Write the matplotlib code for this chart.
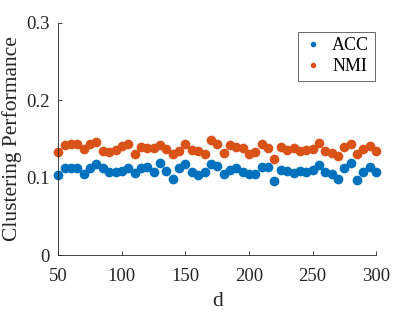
import numpy as np
import matplotlib.pyplot as plt
from matplotlib.lines import Line2D

plt.rcParams['font.family'] = ['Liberation Serif', 'DejaVu Serif']

# Datos
d = np.arange(50, 301, 5)
acc = [0.103, 0.113, 0.113, 0.112, 0.105, 0.113, 0.118, 0.113, 0.107, 0.108,
       0.109, 0.113, 0.106, 0.112, 0.114, 0.108, 0.119, 0.109, 0.099, 0.112,
       0.118, 0.107, 0.104, 0.108, 0.118, 0.115, 0.105, 0.110, 0.112, 0.108,
       0.105, 0.105, 0.114, 0.114, 0.096, 0.110, 0.109, 0.106, 0.109, 0.108,
       0.110, 0.117, 0.108, 0.105, 0.098, 0.112, 0.119, 0.097, 0.108, 0.114,
       0.107]
nmi = [0.133, 0.142, 0.144, 0.143, 0.137, 0.143, 0.146, 0.134, 0.133, 0.136,
       0.141, 0.143, 0.130, 0.140, 0.139, 0.138, 0.142, 0.137, 0.131, 0.134,
       0.143, 0.136, 0.134, 0.130, 0.149, 0.143, 0.132, 0.142, 0.140, 0.139,
       0.131, 0.133, 0.143, 0.139, 0.124, 0.140, 0.136, 0.138, 0.134, 0.136,
       0.137, 0.145, 0.135, 0.132, 0.128, 0.140, 0.144, 0.131, 0.137, 0.141,
       0.135]

xticks = [50, 100, 150, 200, 250, 300]
yticks = [0, 0.1, 0.2, 0.3]

blue = "#0072BD"
orange = "#D95319"

fig = plt.figure(figsize=(4.15, 3.12), dpi=100)
ax = fig.add_axes([0.1405, 0.182, 0.766, 0.745])

ax.plot(d, acc, "o", color=blue, markersize=7, markeredgewidth=0, clip_on=False)
ax.plot(d, nmi, "o", color=orange, markersize=7, markeredgewidth=0, clip_on=False)

ax.set_xlim(50, 300)
ax.set_ylim(0, 0.3)
ax.set_xticks(xticks)
ax.set_yticks(yticks)
ax.set_xticklabels([str(t) for t in xticks])
ax.set_yticklabels(["0", "0.1", "0.2", "0.3"])

for s in ["top", "right"]:
    ax.spines[s].set_visible(False)
for s in ["left", "bottom"]:
    ax.spines[s].set_color("#262626")
    ax.spines[s].set_linewidth(0.6)

ax.tick_params(axis="both", direction="in", length=3, width=0.6,
               color="#262626", labelcolor="#262626", labelsize=13.5)
ax.tick_params(axis="x", pad=9)
ax.tick_params(axis="y", pad=6)

ax.set_xlabel("d", fontsize=15.5, labelpad=5, color="#262626")
ax.set_ylabel("Clustering Performance", fontsize=15.5, labelpad=3, color="#262626")

# Leyenda
handles = [Line2D([], [], ls="none", marker="o", color=blue, markersize=4, markeredgewidth=0),
           Line2D([], [], ls="none", marker="o", color=orange, markersize=4, markeredgewidth=0)]
leg = ax.legend(handles, ["ACC", "NMI"], loc="upper right", bbox_to_anchor=(0.995, 0.96),
                fontsize=13, frameon=True, fancybox=False, borderpad=0.3,
                handlelength=1.1, handletextpad=0.5, labelspacing=0.2,
                borderaxespad=0)
leg.get_frame().set_edgecolor("#262626")
leg.get_frame().set_linewidth(0.6)

plt.savefig("out.png", dpi=100)
